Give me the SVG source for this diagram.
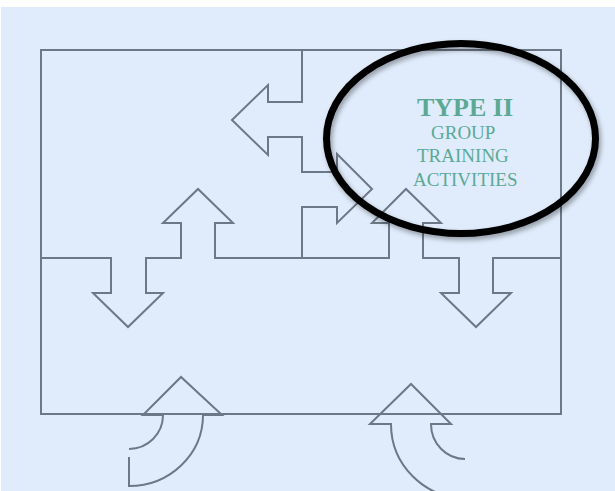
<svg xmlns="http://www.w3.org/2000/svg" width="615" height="491" viewBox="0 0 615 491">
  <defs>
    <style>
      .ln { fill: none; stroke: #6d7886; stroke-width: 2; stroke-linejoin: miter; }
      .lbl { font-family: "Liberation Serif", "Times New Roman", serif; fill: #5ba995; }
    </style>
    <filter id="soft" x="-10%" y="-10%" width="125%" height="130%">
      <feGaussianBlur in="SourceAlpha" stdDeviation="2.5"/>
      <feOffset dx="2" dy="3" result="b"/>
      <feColorMatrix in="b" type="matrix" values="0 0 0 0 0  0 0 0 0 0  0 0 0 0 0  0 0 0 0.35 0"/>
      <feMerge><feMergeNode/><feMergeNode in="SourceGraphic"/></feMerge>
    </filter>
  </defs>

  <!-- page -->
  <rect x="0" y="0" width="615" height="491" fill="#ffffff"/>
  <rect x="1" y="7" width="614" height="484" fill="#e0ecfc"/>

  <!-- outer frame -->
  <g id="frame">
    <rect class="ln" x="41" y="50" width="520" height="364"/>
  </g>

  <g id="connectors">
    <!-- horizontal divider with down / up arrows -->
    <path id="h-divider" class="ln" d="M41,258 H111 V293 H93 L128,327 L163,293 H146 V258 H181 V223 H163 L198,189 L233,223 H215 V258 H389 V223 H372 L406,189 L441,223 H423 V258 H459 V293 H441 L476,327 L511,293 H493 V258 H561"/>
    <!-- vertical divider with left / right arrows -->
    <path id="v-divider" class="ln" d="M302,50 V102 H268 V85 L232,120 L268,155 V137 H302 V172 H337 V154 L372,189 L337,223 V207 H302 V258"/>
    <!-- curved arrows entering from below -->
    <path id="curve-left" class="ln" d="M129,457 V486 A74,71 0 0 0 203,415 H222 L181,377 L143,415 H163 A34,34 0 0 1 129,449"/>
    <path id="curve-right" class="ln" d="M465,459 A34,35 0 0 1 431,424 H451 L411,384 L370,424 H391 A74,74 0 0 0 465,498"/>
  </g>

  <!-- highlighted quadrant -->
  <g id="type2">
    <ellipse cx="461" cy="138.5" rx="134.5" ry="95" fill="none" stroke="#000000" stroke-width="7" filter="url(#soft)"/>
    <text class="lbl" x="417" y="116" font-size="26" font-weight="bold">TYPE II</text>
    <text class="lbl" x="431" y="139" font-size="19">GROUP</text>
    <text class="lbl" x="417" y="162" font-size="19">TRAINING</text>
    <text class="lbl" x="413" y="186" font-size="19">ACTIVITIES</text>
  </g>
</svg>
